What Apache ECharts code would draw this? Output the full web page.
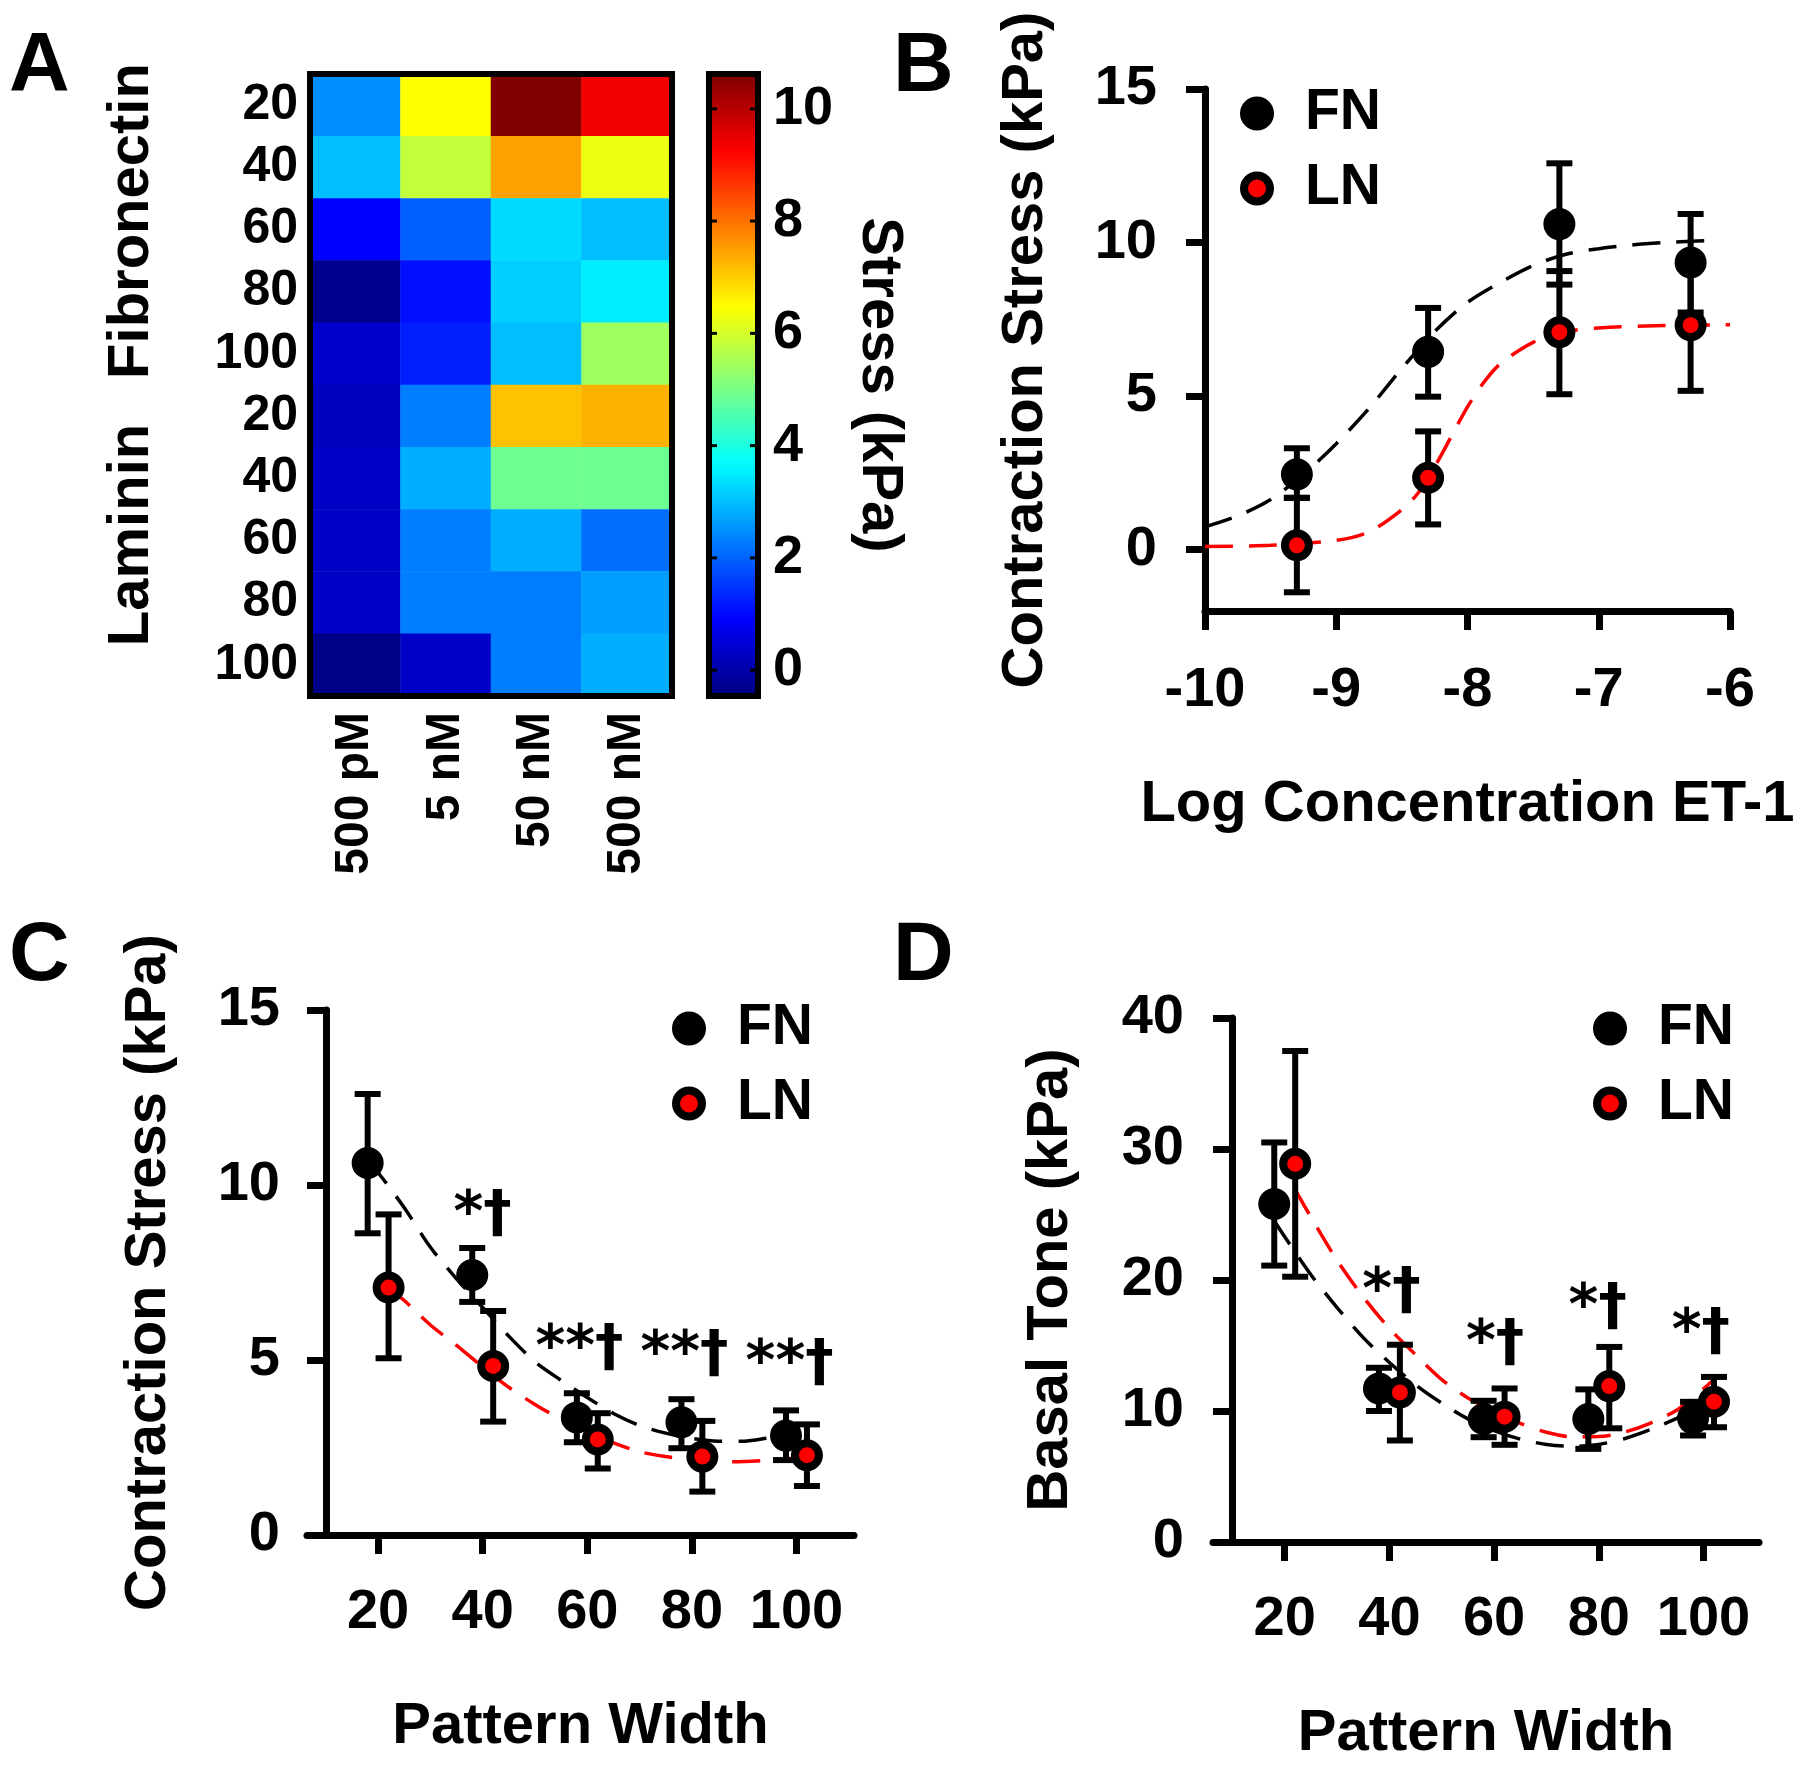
<!DOCTYPE html>
<html>
<head>
<meta charset="utf-8">
<script src="https://cdn.jsdelivr.net/npm/echarts@6/dist/echarts.min.js"></script>
<style>html,body{margin:0;padding:0;background:#fff}#chart{width:1800px;height:1767px}</style>
</head>
<body>
<div id="chart"></div>
<script>
// ---------- Panel A: heatmap ----------
const heatCols = ['500 pM', '5 nM', '50 nM', '500 nM'];
const heatRows = ['20', '40', '60', '80', '100', '20', '40', '60', '80', '100'];
const heatValues = [
  [2.48, 6.45, 10.6, 9.40],
  [2.99, 5.81, 7.48, 6.26],
  [0.91, 1.96, 3.31, 2.99],
  [-0.29, 1.09, 3.17, 3.51],
  [0.40, 1.26, 2.99, 5.42],
  [0.23, 2.30, 7.13, 7.31],
  [0.32, 2.82, 4.90, 4.90],
  [0.32, 2.30, 2.82, 2.13],
  [0.32, 2.30, 2.30, 2.65],
  [-0.38, 0.32, 2.30, 2.82]
];
const colorbarTicks = [0, 2, 4, 6, 8, 10];
const stressMin = -0.46, stressMax = 10.62;

// ---------- Panel B: dose response ----------
const logConc = [-9.3, -8.3, -7.3, -6.3];
const bFN = [2.45, 6.44, 10.6, 9.35];
const bFNhi = [3.3, 7.87, 12.58, 10.93];
const bFNlo = [1.68, 4.98, 8.63, 7.72];
const bLN = [0.14, 2.34, 7.08, 7.31];
const bLNhi = [1.69, 3.85, 9.07, 9.42];
const bLNlo = [-1.39, 0.82, 5.06, 5.17];
const bFNfitX = [-10, -9.75, -9.5, -9.25, -9, -8.75, -8.5, -8.25, -8, -7.75, -7.5, -7.25, -7, -6.75, -6.5, -6.25, -6.1];
const bFNfitY = [0.74, 1.1, 1.63, 2.45, 3.45, 4.6, 5.9, 7.1, 8.05, 8.7, 9.25, 9.62, 9.8, 9.92, 10.0, 10.05, 10.07];
const bLNfitX = [-10, -9.5, -9, -8.75, -8.5, -8.375, -8.25, -8.125, -8, -7.875, -7.75, -7.5, -7.25, -7, -6.5, -6];
const bLNfitY = [0.1, 0.14, 0.3, 0.58, 1.3, 1.85, 2.7, 3.67, 4.65, 5.45, 6.05, 6.75, 7.1, 7.22, 7.3, 7.32];
const bXTicks = [-10, -9, -8, -7, -6];
const bYTicks = [0, 5, 10, 15];

// ---------- Panel C: contraction stress vs pattern width ----------
const widths = [20, 40, 60, 80, 100];
const cFN = [10.63, 7.43, 3.36, 3.22, 2.84];
const cFNhi = [12.6, 8.2, 4.05, 3.88, 3.56];
const cFNlo = [8.62, 6.66, 2.65, 2.48, 2.14];
const cLN = [7.07, 4.83, 2.73, 2.24, 2.28];
const cLNhi = [9.16, 6.4, 3.48, 3.26, 3.16];
const cLNlo = [5.05, 3.24, 1.9, 1.24, 1.4];
const cFNfitX = [18, 20, 25, 30, 35, 40, 45, 50, 55, 60, 65, 70, 75, 80, 85, 90, 95, 98];
const cFNfitY = [10.63, 10.35, 9.35, 8.22, 7.32, 6.5, 5.68, 4.95, 4.42, 3.93, 3.47, 3.13, 2.91, 2.76, 2.68, 2.68, 2.78, 2.83];
const cLNfitX = [22, 25, 30, 35, 40, 45, 50, 55, 60, 65, 70, 75, 80, 85, 90, 95, 100, 102];
const cLNfitY = [7.07, 6.7, 6.0, 5.42, 4.8, 4.22, 3.73, 3.3, 2.95, 2.63, 2.38, 2.24, 2.14, 2.09, 2.1, 2.14, 2.2, 2.24];
const cAnnX = [40, 58.5, 78.6, 98.7];
const cAnnY = [9.12, 5.28, 5.1, 4.84];
const cAnnText = ['*†', '**†', '**†', '**†'];

// ---------- Panel D: basal tone vs pattern width ----------
const dFN = [25.8, 11.72, 9.39, 9.39, 9.44];
const dFNhi = [30.5, 13.3, 10.78, 11.65, 10.7];
const dFNlo = [21.1, 10.0, 8.0, 7.11, 8.13];
const dLN = [28.87, 11.42, 9.57, 11.9, 10.71];
const dLNhi = [37.48, 15.06, 11.72, 14.89, 12.6];
const dLNlo = [20.25, 7.75, 7.42, 8.68, 8.76];
const dFNfitX = [18, 20, 25, 30, 35, 40, 45, 50, 55, 60, 65, 70, 75, 80, 85, 90, 95, 98];
const dFNfitY = [24.5, 23.3, 20.4, 17.9, 15.6, 13.7, 12.0, 10.6, 9.4, 8.5, 7.85, 7.45, 7.3, 7.45, 7.9, 8.6, 9.45, 10.0];
const dLNfitX = [22, 25, 30, 35, 40, 45, 50, 55, 60, 65, 70, 75, 80, 85, 90, 95, 100, 102];
const dLNfitY = [26.9, 24.8, 21.5, 18.7, 16.3, 14.3, 12.4, 11.0, 10.0, 9.05, 8.38, 8.03, 8.05, 8.4, 9.1, 10.1, 11.7, 12.4];
const dAnnX = [40.4, 60.2, 79.8, 99.5];
const dAnnY = [19.0, 15.05, 17.8, 15.9];
const dAnnText = ['*†', '*†', '*†', '*†'];
const widthTicks = [20, 40, 60, 80, 100];

// ---------- styling ----------
const F = 'Liberation Sans, Arial, Helvetica, sans-serif';
const BLACK = '#000000', RED = '#ff0000';
const dodge = 2; // horizontal offset of FN / LN markers around each width
const jet = ['#00007f', '#0000ff', '#007fff', '#00ffff', '#7fff7f', '#ffff00', '#ff7f00', '#ff0000', '#7f0000'];

const labelStyle = (size, margin) => ({fontSize: size, fontWeight: 'bold', color: BLACK, fontFamily: F, margin: margin});
const nameStyle = {fontSize: 58, fontWeight: 'bold', color: BLACK, fontFamily: F};
const axLine = {show: true, onZero: false, lineStyle: {color: BLACK, width: 7}};
const axTick = (vals) => ({show: true, length: 19, lineStyle: {color: BLACK, width: 7}, customValues: vals});

function fitSeries(xs, ys, color, xi, yi) {
  return {type: 'line', xAxisIndex: xi, yAxisIndex: yi, smooth: 0.3, symbol: 'none', silent: true, z: 2,
    lineStyle: {color: color, width: 3.5, type: [28, 16]}, data: xs.map((x, i) => [x, ys[i]])};
}
function errSeries(xs, lo, hi, xi, yi) {
  return {type: 'custom', xAxisIndex: xi, yAxisIndex: yi, silent: true, z: 3,
    data: xs.map((x, i) => [x, lo[i], hi[i]]),
    encode: {x: 0, y: [1, 2]},
    renderItem: function (params, api) {
      const x = api.value(0);
      const t = api.coord([x, api.value(2)]);
      const b = api.coord([x, api.value(1)]);
      const hw = 13;
      const st = {stroke: BLACK, lineWidth: 6, fill: null};
      return {type: 'group', children: [
        {type: 'line', shape: {x1: t[0], y1: t[1], x2: b[0], y2: b[1]}, style: st},
        {type: 'line', shape: {x1: t[0] - hw, y1: t[1], x2: t[0] + hw, y2: t[1]}, style: st},
        {type: 'line', shape: {x1: b[0] - hw, y1: b[1], x2: b[0] + hw, y2: b[1]}, style: st}
      ]};
    }};
}
function pointSeries(name, xs, ys, fill, xi, yi) {
  return {type: 'scatter', name: name, xAxisIndex: xi, yAxisIndex: yi, silent: true, z: 4,
    symbol: 'circle', symbolSize: 24,
    itemStyle: {color: fill, borderColor: BLACK, borderWidth: 8, opacity: 1},
    data: xs.map((x, i) => [x, ys[i]])};
}
function annSeries(xs, ys, texts, xi, yi) {
  return {type: 'custom', xAxisIndex: xi, yAxisIndex: yi, silent: true, z: 5,
    data: xs.map((x, i) => [x, ys[i], i]),
    encode: {x: 0, y: 1},
    renderItem: function (params, api) {
      const p = api.coord([api.value(0), api.value(1)]);
      return {type: 'text', x: p[0], y: p[1],
        style: {text: texts[api.value(2)], font: 'bold 57px DejaVu Sans, Liberation Sans, sans-serif', fill: BLACK,
          textAlign: 'center', textVerticalAlign: 'middle'}};
    }};
}
function legendAt(left, top) {
  return {orient: 'vertical', left: left, top: top, itemWidth: 86, itemHeight: 26, itemGap: 18, selectedMode: false,
    textStyle: {fontSize: 57, fontWeight: 'bold', color: BLACK, fontFamily: F},
    data: [
      {name: 'FN', icon: 'circle', itemStyle: {color: BLACK, borderColor: BLACK, borderWidth: 8}},
      {name: 'LN', icon: 'circle', itemStyle: {color: RED, borderColor: BLACK, borderWidth: 8}}
    ]};
}
function letter(t, x, y) {
  return {type: 'text', x: x, y: y, style: {text: t, font: 'bold 84px ' + F, fill: BLACK, textAlign: 'left', textVerticalAlign: 'middle'}};
}
// black frame around a grid (plus optional inner ticks), drawn through the grid's own coordinate system
function frameSeries(xi, yi, tickVals) {
  return {type: 'custom', xAxisIndex: xi, yAxisIndex: yi, silent: true, z: 20, clip: false,
    data: [[0, 0]],
    renderItem: function (params, api) {
      const cs = params.coordSys;
      const children = [{type: 'rect', shape: {x: cs.x, y: cs.y, width: cs.width, height: cs.height},
        style: {fill: null, stroke: BLACK, lineWidth: 6}}];
      (tickVals || []).forEach(function (v) {
        const y = api.coord([0, v])[1];
        children.push({type: 'line', shape: {x1: cs.x, y1: y, x2: cs.x + 8, y2: y}, style: {stroke: BLACK, lineWidth: 3}});
        children.push({type: 'line', shape: {x1: cs.x + cs.width - 8, y1: y, x2: cs.x + cs.width, y2: y}, style: {stroke: BLACK, lineWidth: 3}});
      });
      return {type: 'group', children: children};
    }};
}

const heatData = [];
heatValues.forEach((row, r) => row.forEach((v, c) => heatData.push([c, r, v])));

const fnX = widths.map(w => w - dodge);
const lnX = widths.map(w => w + dodge);

const option = {
  animation: false,
  backgroundColor: '#ffffff',
  grid: [
    {left: 310, top: 74, width: 362, height: 622, outerBoundsMode: 'none'},
    {left: 709, top: 74, width: 49, height: 622, outerBoundsMode: 'none'},
    {left: 1205, top: 89, width: 525, height: 522, outerBoundsMode: 'none'},
    {left: 307, top: 1010, width: 547, height: 525, outerBoundsMode: 'none'},
    {left: 1213, top: 1018, width: 546, height: 524, outerBoundsMode: 'none'}
  ],
  xAxis: [
    {gridIndex: 0, type: 'category', data: heatCols, axisLine: {show: false}, axisTick: {show: false}, splitLine: {show: false},
      axisLabel: Object.assign(labelStyle(48, 16), {rotate: 90, interval: 0})},
    {gridIndex: 1, type: 'value', show: false, min: 0, max: 1},
    {gridIndex: 2, type: 'value', min: -10, max: -6, interval: 1, axisLine: axLine, axisTick: axTick(bXTicks), splitLine: {show: false},
      axisLabel: Object.assign(labelStyle(56, 52), {customValues: bXTicks}),
      name: 'Log Concentration ET-1', nameLocation: 'middle', nameGap: 165, nameTextStyle: nameStyle},
    {gridIndex: 3, type: 'value', min: 6.4, max: 111, axisLine: axLine, axisTick: axTick(widthTicks), splitLine: {show: false},
      axisLabel: Object.assign(labelStyle(56, 50), {customValues: widthTicks}),
      name: 'Pattern Width', nameLocation: 'middle', nameGap: 163, nameTextStyle: nameStyle},
    {gridIndex: 4, type: 'value', min: 6.3, max: 110.6, axisLine: axLine, axisTick: axTick(widthTicks), splitLine: {show: false},
      axisLabel: Object.assign(labelStyle(56, 50), {customValues: widthTicks}),
      name: 'Pattern Width', nameLocation: 'middle', nameGap: 163, nameTextStyle: nameStyle}
  ],
  yAxis: [
    {gridIndex: 0, type: 'category', data: heatRows, inverse: true, axisLine: {show: false}, axisTick: {show: false}, splitLine: {show: false},
      axisLabel: Object.assign(labelStyle(50, 12), {interval: 0})},
    {gridIndex: 1, type: 'value', position: 'right', min: stressMin, max: stressMax, axisLine: {show: false}, axisTick: {show: false}, splitLine: {show: false},
      axisLabel: Object.assign(labelStyle(54, 15), {customValues: colorbarTicks}),
      name: 'Stress (kPa)', nameLocation: 'middle', nameRotate: -90, nameGap: 92, nameTextStyle: nameStyle},
    {gridIndex: 2, type: 'value', min: -2, max: 15, axisLine: axLine, axisTick: axTick(bYTicks), splitLine: {show: false},
      axisLabel: Object.assign(labelStyle(56, 48), {customValues: bYTicks}),
      name: 'Contraction Stress (kPa)', nameLocation: 'middle', nameRotate: 90, nameGap: 150, nameTextStyle: nameStyle},
    {gridIndex: 3, type: 'value', min: 0, max: 15, interval: 5, offset: -19, axisLine: axLine, axisTick: axTick([0, 5, 10, 15]), splitLine: {show: false},
      axisLabel: labelStyle(56, 46),
      name: 'Contraction Stress (kPa)', nameLocation: 'middle', nameRotate: 90, nameGap: 148, nameTextStyle: nameStyle},
    {gridIndex: 4, type: 'value', min: 0, max: 40, interval: 10, offset: -19, axisLine: axLine, axisTick: axTick([0, 10, 20, 30, 40]), splitLine: {show: false},
      axisLabel: labelStyle(56, 48),
      name: 'Basal Tone (kPa)', nameLocation: 'middle', nameRotate: 90, nameGap: 152, nameTextStyle: nameStyle}
  ],
  visualMap: {
    type: 'continuous', seriesIndex: 0, dimension: 2, min: stressMin, max: stressMax,
    left: 709, top: 74, itemWidth: 49, itemHeight: 622, padding: 0, calculable: false, realtime: false,
    inRange: {color: jet}, textStyle: {fontSize: 1}, z: 2
  },
  legend: [legendAt(1235, 80), legendAt(667, 995), legendAt(1588, 995)],
  graphic: [
    letter('A', 9, 68), letter('B', 893, 68), letter('C', 9, 957), letter('D', 893, 957),
    {type: 'text', x: 132, y: 221, rotation: Math.PI / 2,
      style: {text: 'Fibronectin', font: 'bold 58px ' + F, fill: BLACK, textAlign: 'center', textVerticalAlign: 'middle'}},
    {type: 'text', x: 132, y: 535, rotation: Math.PI / 2,
      style: {text: 'Laminin', font: 'bold 58px ' + F, fill: BLACK, textAlign: 'center', textVerticalAlign: 'middle'}}
  ],
  series: [
    {type: 'heatmap', xAxisIndex: 0, yAxisIndex: 0, data: heatData, silent: true, itemStyle: {borderWidth: 0}},
    frameSeries(0, 0, null),
    frameSeries(1, 1, colorbarTicks),
    // B
    fitSeries(bFNfitX, bFNfitY, BLACK, 2, 2),
    fitSeries(bLNfitX, bLNfitY, RED, 2, 2),
    errSeries(logConc, bFNlo, bFNhi, 2, 2),
    errSeries(logConc, bLNlo, bLNhi, 2, 2),
    pointSeries('FN', logConc, bFN, BLACK, 2, 2),
    pointSeries('LN', logConc, bLN, RED, 2, 2),
    // C
    fitSeries(cFNfitX, cFNfitY, BLACK, 3, 3),
    fitSeries(cLNfitX, cLNfitY, RED, 3, 3),
    errSeries(fnX, cFNlo, cFNhi, 3, 3),
    errSeries(lnX, cLNlo, cLNhi, 3, 3),
    pointSeries('FN', fnX, cFN, BLACK, 3, 3),
    pointSeries('LN', lnX, cLN, RED, 3, 3),
    annSeries(cAnnX, cAnnY, cAnnText, 3, 3),
    // D
    fitSeries(dFNfitX, dFNfitY, BLACK, 4, 4),
    fitSeries(dLNfitX, dLNfitY, RED, 4, 4),
    errSeries(fnX, dFNlo, dFNhi, 4, 4),
    errSeries(lnX, dLNlo, dLNhi, 4, 4),
    pointSeries('FN', fnX, dFN, BLACK, 4, 4),
    pointSeries('LN', lnX, dLN, RED, 4, 4),
    annSeries(dAnnX, dAnnY, dAnnText, 4, 4)
  ]
};

const chart = echarts.init(document.getElementById('chart'), null, {renderer: 'canvas'});
chart.setOption(option);
</script>
</body>
</html>
